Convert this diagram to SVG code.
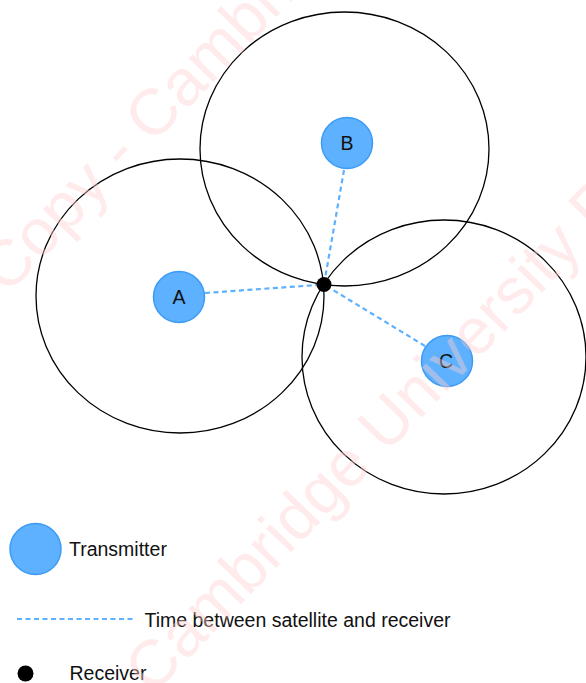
<svg xmlns="http://www.w3.org/2000/svg" width="586" height="683" viewBox="0 0 586 683">
  <style>
    .range { fill: none; stroke: #000000; stroke-width: 1.3; }
    .tx { fill: #5eb1fe; stroke: #3d9bf5; stroke-width: 1.5; }
    .rx { fill: #000000; }
    .sig { fill: none; stroke: #5eb1fe; stroke-width: 2.2; stroke-dasharray: 5 3.5; }
    .lbl { font-family: "Liberation Sans", Arial, Helvetica, sans-serif; font-size: 19.5px; fill: #111111; }
    .mid { text-anchor: middle; }
    .wm { font-family: "Liberation Sans", Arial, Helvetica, sans-serif; font-size: 65px; fill: #ffd0d0; fill-opacity: 0.42; }
  </style>
  <rect width="586" height="683" fill="#ffffff"/>

  <g id="ranges">
    <ellipse id="range-A" class="range" cx="180" cy="296" rx="144" ry="137"/>
    <ellipse id="range-B" class="range" cx="344.5" cy="149" rx="144.5" ry="137"/>
    <ellipse id="range-C" class="range" cx="444" cy="357" rx="142" ry="137"/>
  </g>

  <g id="connectors">
    <line class="sig" x1="205" y1="293" x2="324" y2="284.5"/>
    <line class="sig" x1="344" y1="170" x2="324" y2="284.5"/>
    <line class="sig" x1="425" y1="346" x2="324" y2="284.5"/>
  </g>

  <g id="node-A">
    <circle class="tx" cx="179" cy="297" r="25.5"/>
    <text class="lbl mid" x="179" y="304">A</text>
  </g>
  <g id="node-B">
    <circle class="tx" cx="347" cy="143" r="25.5"/>
    <text class="lbl mid" x="347" y="150">B</text>
  </g>
  <g id="node-C">
    <circle class="tx" cx="447" cy="361" r="25.5"/>
    <text class="lbl mid" x="446" y="368">C</text>
  </g>
  <g id="receiver">
    <circle class="rx" cx="324" cy="284.5" r="7.5"/>
  </g>

  <g id="legend">
    <g id="legend-transmitter">
      <circle class="tx" cx="35.5" cy="549" r="25.5"/>
      <text class="lbl" x="69" y="556">Transmitter</text>
    </g>
    <g id="legend-signal">
      <line class="sig" x1="17" y1="619" x2="135" y2="619" style="stroke-width:1.8"/>
      <text class="lbl" x="144.5" y="627">Time between satellite and receiver</text>
    </g>
    <g id="legend-receiver">
      <circle class="rx" cx="25.5" cy="673.5" r="8"/>
      <text class="lbl" x="69.5" y="680">Receiver</text>
    </g>
  </g>

  <g id="watermark">
    <text class="wm" x="7" y="295.7" transform="rotate(-46 7 295.7)">Copy - Cambridge University Press</text>
    <text class="wm" x="7" y="846.6" transform="rotate(-46 7 846.6)">Copy - Cambridge University Press</text>
  </g>
</svg>
